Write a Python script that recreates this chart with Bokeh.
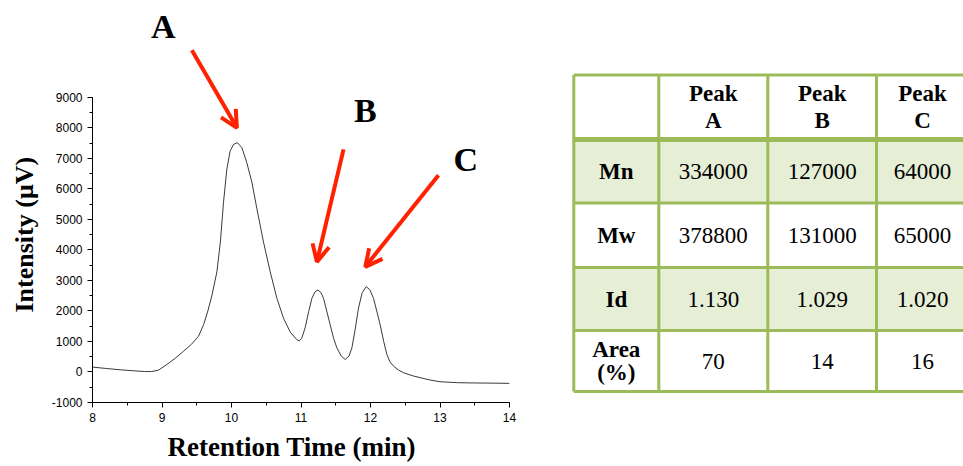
from bokeh.plotting import figure
from bokeh.models import (Range1d, SingleIntervalTicker, Label, Arrow, OpenHead,
                          ColumnDataSource, Title, PrintfTickFormatter)
from bokeh.layouts import row
from bokeh.embed import file_html
from bokeh.resources import INLINE
from bokeh.core.properties import value

# ---------------- data ----------------
time_min = [8.0, 8.2, 8.4, 8.6, 8.75, 8.85, 8.95, 9.07, 9.19, 9.31, 9.42, 9.525, 9.6, 9.66,
            9.72, 9.79, 9.84, 9.885, 9.933, 9.98, 10.03, 10.086, 10.15, 10.22, 10.294, 10.366,
            10.46, 10.557, 10.653, 10.748, 10.845, 10.94, 10.975, 11.01, 11.06, 11.11, 11.157,
            11.2, 11.243, 11.285, 11.324, 11.37, 11.42, 11.47, 11.516, 11.58, 11.636, 11.69,
            11.732, 11.78, 11.827, 11.88, 11.938, 11.99, 12.043, 12.09, 12.139, 12.19, 12.236,
            12.28, 12.331, 12.4, 12.475, 12.6, 12.715, 12.85, 13.0, 13.25, 13.5, 13.75, 14.0]
intensity_uv = [160, 115, 72, 38, 15, 15, 60, 246, 450, 682, 900, 1170, 1560, 2000,
                2525, 3285, 4262, 5563, 6647, 7243, 7461, 7516, 7353, 6865, 6214, 5346,
                4262, 3285, 2417, 1766, 1310, 1060, 1020, 1100, 1450, 1980, 2417,
                2620, 2688, 2610, 2417, 2000, 1549, 1100, 790, 520, 409, 520,
                790, 1400, 2092, 2600, 2797, 2700, 2417, 2000, 1549, 1000, 573,
                330, 194, 70, -24, -120, -186, -260, -320, -350, -360, -365, -372]

peaks = ["A", "B", "C"]
row_names = ["Mn", "Mw", "Id", "Area\n(%)"]
mn_values = ["334000", "127000", "64000"]
mw_values = ["378800", "131000", "65000"]
id_values = ["1.130", "1.029", "1.020"]
area_values = ["70", "14", "16"]

RED = "#ff2200"
GREEN = "#9bbb59"
LIGHT = "#e6eed6"
SERIF = "Liberation Serif"

# ---------------- chromatogram ----------------
p = figure(width=565, height=466, x_range=Range1d(8, 14), y_range=Range1d(-1000, 12179),
           output_backend="svg", toolbar_location=None,
           min_border_left=92, min_border_right=56, min_border_top=0, min_border_bottom=61)
p.outline_line_color = None
p.grid.visible = False

p.line(time_min, intensity_uv, line_color="#3a3a3a", line_width=1)

p.xaxis.ticker = SingleIntervalTicker(interval=1, num_minor_ticks=2)
p.yaxis.ticker = SingleIntervalTicker(interval=1000, num_minor_ticks=2)
p.yaxis.formatter = PrintfTickFormatter(format="%d")
p.xaxis.bounds = (8, 14)
p.yaxis.bounds = (-1000, 9000)
for ax in (p.xaxis, p.yaxis):
    ax.axis_line_color = "black"
    ax.major_tick_line_color = "black"
    ax.minor_tick_line_color = "black"
    ax.major_tick_in = 0
    ax.major_tick_out = 5
    ax.minor_tick_in = 0
    ax.minor_tick_out = 3
    ax.major_label_text_font = "Liberation Sans"
    ax.major_label_text_font_size = "12px"
    ax.major_label_text_color = "black"
    ax.major_label_standoff = 5

p.add_layout(Title(text="Intensity (\u03bcV)", align="left", offset=90, standoff=15,
                   vertical_align="top", text_font=SERIF, text_font_size="26px",
                   text_font_style="bold", text_color="black"), "left")
p.add_layout(Title(text="Retention Time (min)", align="left", offset=75, text_font=SERIF,
                   text_font_size="27px", text_font_style="bold", text_color="black"), "below")

# peak letters
letter_pos = [(9.017, 11333), (11.924, 8557), (13.37, 6982)]
for name, (lx, ly) in zip(peaks, letter_pos):
    p.add_layout(Label(x=lx, y=ly, text=name, text_font=SERIF, text_font_size="34px",
                       text_font_style="bold", text_align="center", text_baseline="alphabetic",
                       text_color="black"))

arrows = [((9.430, 10552), (10.078, 8004)),
          ((11.612, 7298), (11.229, 3611)),
          ((12.978, 6452), (11.924, 3448))]
for (x0, y0), (x1, y1) in arrows:
    p.add_layout(Arrow(end=OpenHead(size=17, line_color=RED, line_width=4),
                       x_start=x0, y_start=y0, x_end=x1, y_end=y1,
                       line_color=RED, line_width=4))

# ---------------- table ----------------
t = figure(width=398, height=466, x_range=Range1d(0, 398), y_range=Range1d(405, 0),
           output_backend="svg", toolbar_location=None,
           min_border_left=0, min_border_right=0, min_border_top=0, min_border_bottom=61,
           x_axis_location=None, y_axis_location=None)
t.outline_line_color = None
t.grid.visible = False

col_edges = [8.3, 93.3, 202.3, 311.0, 415.0]
row_edges = [75.0, 140.0, 204.0, 269.0, 332.5, 394.0]

shaded = [1, 3]
t.quad(left=[col_edges[0]] * len(shaded), right=[col_edges[-1]] * len(shaded),
       top=[row_edges[i] for i in shaded], bottom=[row_edges[i + 1] for i in shaded],
       fill_color=LIGHT, line_color=None)

widths = [3, 5, 3, 3, 3, 3]
t.segment(x0=[col_edges[0]] * len(row_edges), y0=row_edges,
          x1=[col_edges[-1]] * len(row_edges), y1=row_edges,
          line_color=GREEN, line_width=widths)
vcols = col_edges[:-1]
t.segment(x0=vcols, y0=[row_edges[0]] * len(vcols), x1=vcols, y1=[row_edges[-1]] * len(vcols),
          line_color=GREEN, line_width=3)

col_c = [(col_edges[i] + col_edges[i + 1]) / 2 for i in range(4)]
col_c[3] = 357.0
row_c = [(row_edges[i] + row_edges[i + 1]) / 2 for i in range(5)]

hdr = ColumnDataSource(dict(x=col_c[1:], y=[row_c[0]] * 3, text=["Peak\n" + k for k in peaks]))
t.text(x="x", y="y", text="text", source=hdr, text_align="center", text_baseline="middle",
       text_font=value(SERIF), text_font_size="23px", text_font_style="bold",
       text_color="black", text_line_height=1.1)

rn = ColumnDataSource(dict(x=[col_c[0]] * 4, y=row_c[1:], text=row_names))
t.text(x="x", y="y", text="text", source=rn, text_align="center", text_baseline="middle",
       text_font=value(SERIF), text_font_size="23px", text_font_style="bold",
       text_color="black", text_line_height=0.95)

vx, vy, vt = [], [], []
for r, vals in enumerate([mn_values, mw_values, id_values, area_values]):
    for c, v in enumerate(vals):
        vx.append(col_c[c + 1])
        vy.append(row_c[r + 1])
        vt.append(v)
vs = ColumnDataSource(dict(x=vx, y=vy, text=vt))
t.text(x="x", y="y", text="text", source=vs, text_align="center", text_baseline="middle",
       text_font=value(SERIF), text_font_size="23px", text_color="black")

layout = row(p, t)
open("out.html", "w").write(file_html(layout, INLINE))
